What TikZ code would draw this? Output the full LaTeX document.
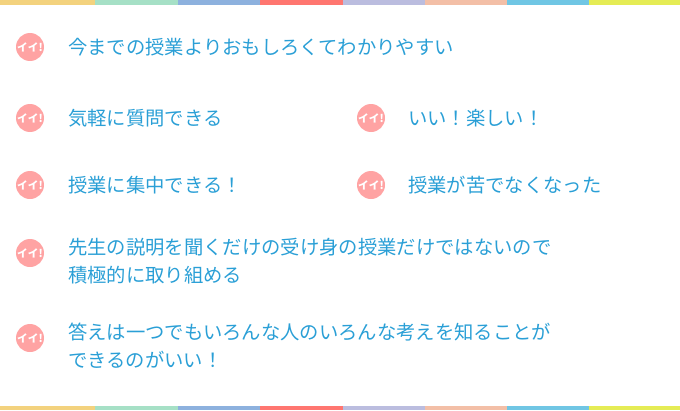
\documentclass[tikz,border=0pt]{standalone}
\usepackage{fontspec}
\setmainfont{Noto Sans CJK JP}
\definecolor{txt}{HTML}{2A9FD6}
\definecolor{pk}{HTML}{FFA3A3}
\begin{document}
\begin{tikzpicture}[x=0.75pt,y=-0.75pt,
  ic/.style={circle,fill=pk,minimum size=28*0.75pt,inner sep=0pt,text=white,font=\bfseries\fontsize{8}{8}\selectfont},
  tx/.style={anchor=west,text=txt,font=\fontsize{14.5}{21}\selectfont,align=left,inner sep=0pt}]
\useasboundingbox (0,0) rectangle (680,410);
\foreach \a/\b/\c in {0/95/F3D27E,95/178/A6E0C6,178/260/8DB1DE,260/343/FF7670,343/425/BBBDDF,425/507/F3BFA7,507/589/70C6E4,589/680/E5EC55}{
  \definecolor{sc}{HTML}{\c}
  \fill[sc] (\a,0) rectangle (\b,5);
  \fill[sc] (\a,406) rectangle (\b,410);}
\node[ic] (i1) at (30,47) {イイ!};
\node[tx] (t1) at (68,47) {今までの授業よりおもしろくてわかりやすい};
\node[ic] (i2) at (30,118) {イイ!};
\node[tx] (t2) at (68,118) {気軽に質問できる};
\node[ic] (i3) at (371,118) {イイ!};
\node[tx] (t3) at (408,118) {いい！楽しい！};
\node[ic] (i4) at (30,185) {イイ!};
\node[tx] (t4) at (68,185) {授業に集中できる！};
\node[ic] (i5) at (371,185) {イイ!};
\node[tx] (t5) at (408,185) {授業が苦でなくなった};
\node[ic] (i6) at (30,253) {イイ!};
\node[tx,anchor=north west] (t6) at (68,238) {先生の説明を聞くだけの受け身の授業だけではないので\\積極的に取り組める};
\node[ic] (i7) at (30,338) {イイ!};
\node[tx,anchor=north west] (t7) at (68,323) {答えは一つでもいろんな人のいろんな考えを知ることが\\できるのがいい！};
\end{tikzpicture}
\end{document}
